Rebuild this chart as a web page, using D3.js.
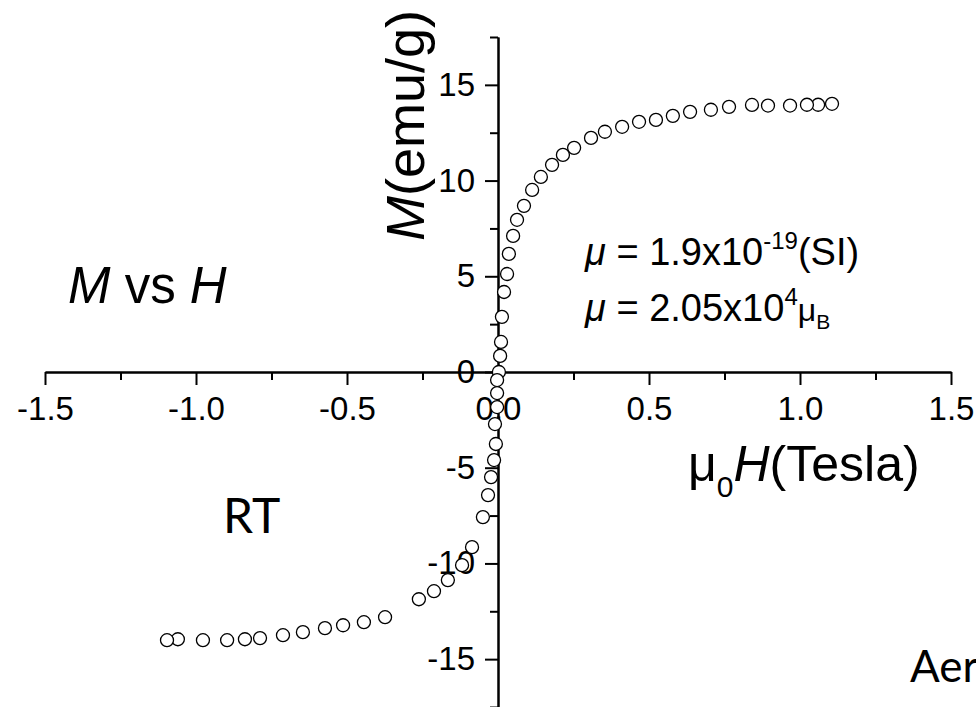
<!DOCTYPE html>
<html>
<head>
<meta charset="utf-8">
<script src="https://cdn.jsdelivr.net/npm/d3@7"></script>
<style>
  body { margin: 0; background: #fff; }
  svg { display: block; font-family: Arial, "Liberation Sans", sans-serif; }
  .axis path, .axis line { stroke: #000; stroke-width: 2; }
  .axis text { font-size: 33px; fill: #000; }
</style>
</head>
<body>
<script>
// Section 1: Data
// ===========================
// field (Tesla)
var fieldT = [1.106, 1.060, 1.023, 0.967, 0.894, 0.841, 0.765, 0.705, 0.636, 0.579,
  0.523, 0.467, 0.411, 0.354, 0.308, 0.252, 0.215, 0.179, 0.142, 0.113,
  0.086, 0.063, 0.050, 0.036, 0.030, 0.020, 0.013, 0.010, 0.007, 0.003,
  -0.003, -0.003, -0.003, -0.010, -0.007, -0.013, -0.023, -0.033, -0.050, -0.086,
  -0.119, -0.166, -0.212, -0.262, -0.374, -0.444, -0.513, -0.573, -0.646, -0.712,
  -0.788, -0.838, -0.897, -0.977, -1.060, -1.096];
// magnetisation (emu/g)
var magM = [14.01, 13.96, 13.96, 13.92, 13.92, 13.95, 13.85, 13.70, 13.59, 13.38,
  13.17, 13.07, 12.81, 12.55, 12.23, 11.71, 11.34, 10.82, 10.19, 9.51,
  8.68, 7.95, 7.11, 6.17, 5.12, 4.18, 2.88, 1.57, 0.84, 0.0,
  -0.42, -1.10, -1.83, -2.72, -3.76, -4.60, -5.49, -6.43, -7.58, -9.15,
  -10.09, -10.87, -11.45, -11.87, -12.81, -13.07, -13.23, -13.38, -13.59, -13.75,
  -13.90, -13.96, -14.01, -14.01, -13.96, -14.01];

var xMajor = [-1.5, -1.0, -0.5, 0.0, 0.5, 1.0, 1.5];
var xMinor = [-1.25, -0.75, -0.25, 0.25, 0.75, 1.25];
var yMajor = [-15, -10, -5, 0, 5, 10, 15];
var yMinor = [-17.5, -12.5, -7.5, -2.5, 2.5, 7.5, 12.5, 17.5];

var points = fieldT.map(function(h, i) { return { h: h, m: magM[i] }; });

// Section 2: Setup
// ===========================
var width = 976;
var height = 707;

var svg = d3.select("body")
  .append("svg")
  .attr("width", width)
  .attr("height", height);

var xScale = d3.scaleLinear().domain([-1.5, 1.5]).range([45, 951]);
var yScale = d3.scaleLinear().domain([-17.5, 17.5]).range([707, 37]);

// hyphen instead of the unicode minus
function fmtX(d) { return d.toFixed(1); }
function fmtY(d) { return String(d); }

// Section 3: Axes, crossing at the origin
// ===========================
var xAxisG = svg.append("g")
  .attr("class", "axis")
  .attr("transform", "translate(0," + yScale(0) + ")");

xAxisG.call(d3.axisBottom(xScale)
  .tickValues(xMinor)
  .tickSize(8)
  .tickSizeOuter(0)
  .tickFormat(""));

xAxisG.append("g").call(d3.axisBottom(xScale)
  .tickValues(xMajor)
  .tickSize(13)
  .tickSizeOuter(0)
  .tickPadding(12)
  .tickFormat(fmtX));

var yAxisG = svg.append("g")
  .attr("class", "axis")
  .attr("transform", "translate(" + xScale(0) + ",0)");

yAxisG.call(d3.axisLeft(yScale)
  .tickValues(yMinor)
  .tickSize(8)
  .tickSizeOuter(0)
  .tickFormat(""));

yAxisG.append("g").call(d3.axisLeft(yScale)
  .tickValues(yMajor)
  .tickSize(13)
  .tickSizeOuter(0)
  .tickPadding(10)
  .tickFormat(fmtY));

svg.selectAll(".axis text").attr("fill", "#000");
svg.selectAll(".axis .domain").attr("stroke", "#000").attr("stroke-width", 2);

// Section 4: Points (open circles, on top of the axes)
// ===========================
svg.append("g")
  .selectAll("circle")
  .data(points)
  .enter()
  .append("circle")
  .attr("cx", function(d) { return xScale(d.h); })
  .attr("cy", function(d) { return yScale(d.m); })
  .attr("r", 6.5)
  .attr("fill", "#fff")
  .attr("stroke", "#000")
  .attr("stroke-width", 1.3);

// Section 5: Titles and notes
// ===========================
// y title, rotated
var yTitle = svg.append("text")
  .attr("transform", "translate(424,241)rotate(-90)")
  .attr("font-size", 54);
yTitle.append("tspan").attr("font-style", "italic").text("M");
yTitle.append("tspan").text("(emu/g)");

// x title
var xTitle = svg.append("text")
  .attr("x", 688)
  .attr("y", 481)
  .attr("font-size", 50);
xTitle.append("tspan").text("\u03bc");
xTitle.append("tspan").attr("font-size", 30).attr("dy", 16).text("0");
xTitle.append("tspan").attr("font-style", "italic").attr("dy", -16).text("H");
xTitle.append("tspan").text("(Tesla)");

// M vs H
var mvh = svg.append("text")
  .attr("x", 68)
  .attr("y", 303)
  .attr("font-size", 51);
mvh.append("tspan").attr("font-style", "italic").text("M");
mvh.append("tspan").text(" vs ");
mvh.append("tspan").attr("font-style", "italic").text("H");

// moment notes
var note1 = svg.append("text")
  .attr("x", 585)
  .attr("y", 265)
  .attr("font-size", 38);
note1.append("tspan").attr("font-style", "italic").text("\u03bc");
note1.append("tspan").text(" = 1.9x10");
note1.append("tspan").attr("font-size", 24).attr("dy", -16).text("-19");
note1.append("tspan").attr("dy", 16).text("(SI)");

var note2 = svg.append("text")
  .attr("x", 585)
  .attr("y", 321)
  .attr("font-size", 38);
note2.append("tspan").attr("font-style", "italic").text("\u03bc");
note2.append("tspan").text(" = 2.05x10");
note2.append("tspan").attr("font-size", 24).attr("dy", -16).text("4");
note2.append("tspan").attr("dy", 16).attr("font-size", 32).text("\u03bc");
note2.append("tspan").attr("font-size", 21).attr("dy", 8).text("B");

// handwritten style labels
svg.append("text")
  .attr("x", 223)
  .attr("y", 533)
  .attr("font-family", "'Comic Sans MS', Lato, sans-serif")
  .attr("font-size", 48)
  .text("RT");

svg.append("text")
  .attr("x", 910)
  .attr("y", 682)
  .attr("font-family", "'Comic Sans MS', Lato, sans-serif")
  .attr("font-size", 44)
  .text("Aer");
</script>
</body>
</html>
